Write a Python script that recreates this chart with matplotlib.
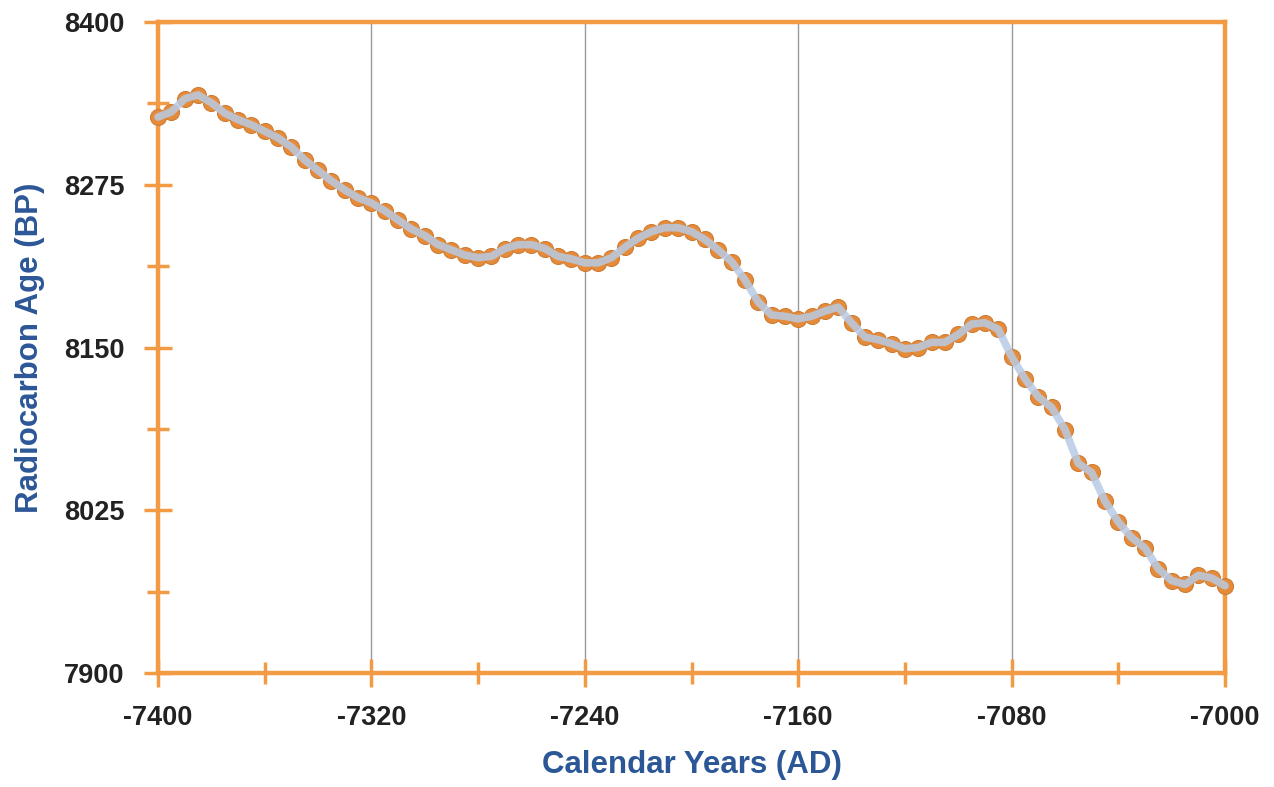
import numpy as np
import matplotlib.pyplot as plt
import matplotlib.ticker as mtick

# calendar years, every 5 years
years = np.arange(-7400, -6999, 5)

# radiocarbon age (BP)
age = [8327, 8331, 8341, 8344, 8338, 8330, 8325, 8321, 8316, 8311,
       8304, 8294, 8286, 8278, 8271, 8265, 8261, 8255, 8248, 8241,
       8236,
       8229, 8225, 8221, 8219, 8220, 8226, 8229, 8229, 8226, 8220,
       8218, 8215, 8215, 8219, 8227, 8234, 8239, 8242, 8242, 8239,
       8233, 8225,
       8216, 8202, 8185, 8175, 8174, 8172, 8174, 8178, 8181, 8169,
       8158, 8156, 8153, 8149, 8150, 8154, 8154, 8160, 8168, 8169,
       8164,
       8143, 8126, 8112, 8104, 8087, 8061, 8054, 8032, 8016, 8004,
       7996, 7980, 7971, 7968, 7975, 7973, 7967]

x_ticks = [-7400, -7320, -7240, -7160, -7080, -7000]
x_minor = [-7360, -7280, -7200, -7120, -7040]
y_ticks = [7900, 8025, 8150, 8275, 8400]
y_minor = [7962.5, 8087.5, 8212.5, 8337.5]

orange = '#F39A45'
blue = '#2C5797'

plt.rcParams['font.family'] = ['Liberation Sans', 'DejaVu Sans']
plt.rcParams['axes.unicode_minus'] = False

fig = plt.figure(figsize=(12.74, 7.87), dpi=100)
ax = fig.add_axes([158 / 1274, 114 / 787, 1067 / 1274, 651 / 787])

ax.plot(years, age, 'o', markersize=11.5, color='#E58B3A',
        markeredgecolor='#D07C33', markeredgewidth=0.8, zorder=3, clip_on=False)
ax.plot(years, age, '-', color='#B8CAE4', lw=5.5, alpha=0.85,
        solid_capstyle='round', zorder=4, clip_on=False)

ax.set_xlim(-7400, -7000)
ax.set_ylim(7900, 8400)
ax.set_xticks(x_ticks)
ax.set_yticks(y_ticks)
ax.xaxis.set_minor_locator(mtick.FixedLocator(x_minor))
ax.yaxis.set_minor_locator(mtick.FixedLocator(y_minor))

for x in x_ticks[1:-1]:
    ax.axvline(x, color='#9A9A9A', lw=1.0, zorder=1)

for s in ax.spines.values():
    s.set_color(orange)
    s.set_linewidth(3.2)

ax.tick_params(which='major', direction='inout', length=20, width=2.5,
               color=orange, labelsize=19.5, labelcolor='#222222')
ax.tick_params(which='minor', direction='inout', length=16, width=2.5,
               color=orange)
ax.tick_params(axis='x', which='major', pad=13)
ax.tick_params(axis='y', which='major', pad=14)
for lab in ax.get_xticklabels() + ax.get_yticklabels():
    lab.set_fontweight('bold')

ax.set_xlabel('Calendar Years (AD)', fontsize=22.5, fontweight='bold',
              color=blue, labelpad=14)
ax.set_ylabel('Radiocarbon Age (BP)', fontsize=22.5, fontweight='bold',
              color=blue, labelpad=14)

fig.savefig('out.png', dpi=100)
